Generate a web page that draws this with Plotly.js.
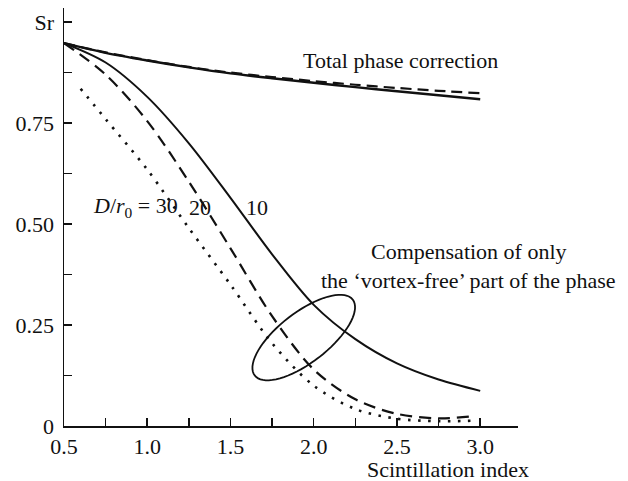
<!DOCTYPE html>
<html>
<head>
<meta charset="utf-8">
<script src="https://cdn.plot.ly/plotly-3.0.1.min.js"></script>
<style>
  html, body { margin: 0; padding: 0; background: #fff; }
  #chart { width: 628px; height: 481px; }
</style>
</head>
<body>
<div id="chart"></div>
<script>
// Scintillation index (abscissa)
const scint = [0.5, 0.75, 1.0, 1.25, 1.5, 1.75, 2.0, 2.25, 2.5, 2.75, 3.0];

// Total phase correction
const totalSolid  = [0.948, 0.924, 0.905, 0.888, 0.873, 0.861, 0.850, 0.839, 0.829, 0.819, 0.809];
const totalDashed = [0.948, 0.925, 0.906, 0.889, 0.875, 0.864, 0.854, 0.845, 0.837, 0.830, 0.824];

// Compensation of the vortex-free part only, D/r0 = 10, 20, 30
const comp10 = [0.948, 0.900, 0.815, 0.700, 0.565, 0.425, 0.300, 0.215, 0.155, 0.115, 0.087];
const xComp20 = [0.5, 0.75, 1.0, 1.25, 1.5, 1.75, 2.0, 2.25, 2.5, 2.75, 2.95];
const comp20 = [0.948, 0.870, 0.755, 0.605, 0.440, 0.272, 0.140, 0.066, 0.030, 0.019, 0.024];
const xComp30 = [0.6, 0.75, 1.0, 1.25, 1.5, 1.75, 2.0, 2.25, 2.5, 2.75, 2.95];
const comp30 = [0.835, 0.760, 0.635, 0.490, 0.350, 0.205, 0.100, 0.042, 0.018, 0.012, 0.013];

// Axis ticks
const xTickVals = [0.5, 1.0, 1.5, 2.0, 2.5, 3.0];
const xTickText = ['0.5', '1.0', '1.5', '2.0', '2.5', '3.0'];
const yTickVals = [0, 0.25, 0.5, 0.75, 1.0];
const yTickText = ['0', '0.25', '0.50', '0.75', 'Sr'];

const FONT = 'Liberation Serif, Times New Roman, serif';
const INK = '#111';
const FS = 22;

function line(x, y, dash, width) {
  return {
    x: x, y: y, type: 'scatter', mode: 'lines', hoverinfo: 'skip',
    line: { color: INK, width: width, dash: dash, shape: 'spline', smoothing: 0.9 }
  };
}

const traces = [
  line(scint, totalSolid, 'solid', 2.4),
  line(scint, totalDashed, '11px,6px', 2.2),
  line(scint, comp10, 'solid', 2),
  line(xComp20, comp20, '12px,7px', 2.2),
  line(xComp30, comp30, '2.5px,7.5px', 2.6)
];

// Plot-area geometry used to build the ellipse outline (pixels per data unit)
const xRange = [0.5, 3.227];
const yRange = [0, 1.035];
const plotW = 628 - 63.5 - 110;
const plotH = 481 - 8 - 55;
const pxX = plotW / (xRange[1] - xRange[0]);
const pxY = plotH / (yRange[1] - yRange[0]);

// Rotated ellipse grouping the three compensation curves
function ellipsePath(cx, cy, a, b, deg) {
  const t = deg * Math.PI / 180;
  let d = '';
  for (let i = 0; i <= 72; i++) {
    const u = i / 72 * 2 * Math.PI;
    const ex = a * Math.cos(u), ey = b * Math.sin(u);
    const px = ex * Math.cos(t) - ey * Math.sin(t);
    const py = ex * Math.sin(t) + ey * Math.cos(t);
    const x = cx + px / pxX, y = cy + py / pxY;
    d += (i === 0 ? 'M' : 'L') + x.toFixed(4) + ',' + y.toFixed(4);
  }
  return d + 'Z';
}

const layout = {
  width: 628, height: 481,
  margin: { l: 63.5, r: 110, t: 8, b: 55, pad: 0 },
  paper_bgcolor: '#fff', plot_bgcolor: '#fff',
  showlegend: false,
  font: { family: FONT, size: FS, color: INK },
  xaxis: {
    range: xRange, showgrid: false, zeroline: false,
    showline: true, linecolor: INK, linewidth: 1.5,
    tickmode: 'array', tickvals: xTickVals, ticktext: xTickText,
    ticks: 'inside', ticklen: 8, tickwidth: 1.5, tickcolor: INK,
    minor: { tickmode: 'array', tickvals: [0.75, 1.25, 1.75, 2.25, 2.75], ticks: 'inside', ticklen: 8, tickwidth: 1.5, tickcolor: INK },
    tickfont: { family: FONT, size: FS, color: INK }
  },
  yaxis: {
    range: yRange, showgrid: false, zeroline: false,
    showline: true, linecolor: INK, linewidth: 1.5,
    tickmode: 'array', tickvals: yTickVals, ticktext: yTickText,
    ticks: 'inside', ticklen: 8, tickwidth: 1.5, tickcolor: INK,
    ticklabelstandoff: 4,
    minor: { tickmode: 'array', tickvals: [0.125, 0.375, 0.625, 0.875], ticks: 'inside', ticklen: 8, tickwidth: 1.5, tickcolor: INK },
    tickfont: { family: FONT, size: FS, color: INK }
  },
  shapes: [{
    type: 'path', xref: 'x', yref: 'y',
    path: ellipsePath(1.94, 0.219, 62, 25, 37.7),
    line: { color: INK, width: 1.8 }, fillcolor: 'rgba(0,0,0,0)'
  }],
  annotations: [
    { text: 'Total phase correction', x: 2.519, y: 0.906, xref: 'x', yref: 'y', showarrow: false, xanchor: 'center', yanchor: 'middle' },
    { text: 'Compensation of only', x: 2.93, y: 0.431, xref: 'x', yref: 'y', showarrow: false, xanchor: 'center', yanchor: 'middle' },
    { text: 'the \u2018vortex-free\u2019 part of the phase', x: 2.93, y: 0.361, xref: 'x', yref: 'y', showarrow: false, xanchor: 'center', yanchor: 'middle' },
    { text: '<i>D</i>/<i>r</i><sub>0</sub> = 30', x: 1.199, y: 0.542, xref: 'x', yref: 'y', showarrow: false, xanchor: 'right', yanchor: 'middle' },
    { text: '20', x: 1.319, y: 0.542, xref: 'x', yref: 'y', showarrow: false, xanchor: 'center', yanchor: 'middle' },
    { text: '10', x: 1.661, y: 0.542, xref: 'x', yref: 'y', showarrow: false, xanchor: 'center', yanchor: 'middle' },
    { text: 'Scintillation index', x: 2.807, y: -0.104, xref: 'x', yref: 'paper', showarrow: false, xanchor: 'center', yanchor: 'middle', height: 22, valign: 'middle' }
  ]
};

Plotly.newPlot('chart', traces, layout, { staticPlot: true, displayModeBar: false });
</script>
</body>
</html>
